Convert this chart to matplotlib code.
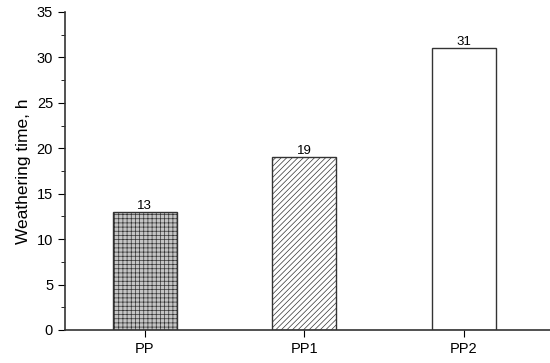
import matplotlib.pyplot as plt
from matplotlib.ticker import MultipleLocator

samples = ['PP', 'PP1', 'PP2']
hours = [13, 19, 31]
hatches = ['++++', '//////', '']
faces = ['#c4c4c4', 'white', 'white']

plt.rcParams['font.family'] = ['Liberation Sans', 'DejaVu Sans']
plt.rcParams['hatch.color'] = '#8f8f8f'
plt.rcParams['hatch.linewidth'] = 0.5

fig = plt.figure(figsize=(5.5, 3.63), dpi=100)
ax = fig.add_axes([0.118, 0.091, 0.882, 0.876])

x = range(len(samples))
bars = ax.bar(x, hours, width=0.4, color=faces, edgecolor='#333333', linewidth=1.0)
for b, h in zip(bars, hatches):
    b.set_hatch(h)
ax.bar_label(bars, padding=0, fontsize=9.5)

ax.set_xticks(list(x))
ax.set_xticklabels(samples, fontsize=10)
ax.set_xlim(-0.5, 2.54)
ax.set_ylim(0, 35)
ax.yaxis.set_major_locator(MultipleLocator(5))
ax.yaxis.set_minor_locator(MultipleLocator(2.5))
ax.tick_params(axis='y', which='major', length=5, labelsize=10.5)
ax.tick_params(axis='y', which='minor', length=3)
ax.tick_params(axis='x', length=5, labelsize=10.5)
ax.set_ylabel('Weathering time, h', fontsize=12.5)

for s in ['top', 'right']:
    ax.spines[s].set_visible(False)
for s in ['left', 'bottom']:
    ax.spines[s].set_color('#333333')
    ax.spines[s].set_linewidth(1.2)

fig.savefig('out.png', dpi=100)
